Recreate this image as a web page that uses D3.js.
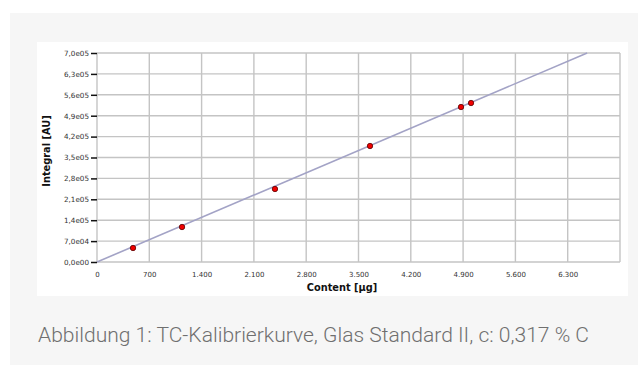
<!DOCTYPE html>
<html>
<head>
<meta charset="utf-8">
<script src="https://cdn.jsdelivr.net/npm/d3@7"></script>
<style>
  html, body { margin: 0; padding: 0; background: #ffffff; }
  svg { display: block; }
</style>
</head>
<body>
<svg id="chart" width="638" height="365"></svg>
<script>
// Calibration standards: sample content [µg] and measured peak integral [AU]
const contentUg = [482, 1138, 2382, 3654, 4872, 5006];
const integralAU = [46900, 117200, 244500, 388500, 519100, 532500];

// Calibration line through the origin (integral per µg)
const fitSlope = 106.7;

// Axis ticks
const xTicks = [0, 700, 1400, 2100, 2800, 3500, 4200, 4900, 5600, 6300];
const xTickLabels = ["0", "700", "1.400", "2.100", "2.800", "3.500", "4.200", "4.900", "5.600", "6.300"];
const yTicks = [0, 70000, 140000, 210000, 280000, 350000, 420000, 490000, 560000, 630000, 700000];
const yTickLabels = ["0,0e00", "7,0e04", "1,4e05", "2,1e05", "2,8e05", "3,5e05", "4,2e05", "4,9e05", "5,6e05", "6,3e05", "7,0e05"];

const xDomain = [0, 7000];
const yDomain = [0, 700000];

const caption = "Abbildung 1: TC-Kalibrierkurve, Glas Standard II, c: 0,317 % C";

const svg = d3.select("#chart");

// Page framing: light grey band with a white chart card
svg.append("rect").attr("x", 10).attr("y", 13).attr("width", 628).attr("height", 352).attr("fill", "#f6f6f6");
svg.append("rect").attr("x", 37).attr("y", 42).attr("width", 591).attr("height", 254).attr("fill", "#ffffff");

const plot = { left: 97, right: 620, top: 53, bottom: 262 };

const x = d3.scaleLinear().domain(xDomain).range([plot.left, plot.right]);
const y = d3.scaleLinear().domain(yDomain).range([plot.bottom, plot.top]);

const gridColor = "#c4c4c4";
const tickFont = "Verdana, 'DejaVu Sans', sans-serif";

// Vertical grid lines + x labels
const xAxis = d3.axisBottom(x)
  .tickValues(xTicks)
  .tickSize(0)
  .tickPadding(10)
  .tickFormat((d, i) => xTickLabels[i]);
const gx = svg.append("g").attr("transform", `translate(0,${plot.bottom})`).call(xAxis);
gx.select(".domain").remove();
gx.selectAll("text").attr("font-family", tickFont).attr("font-size", "7px").attr("fill", "#333");

svg.append("g").selectAll("line").data(xTicks.concat([xDomain[1]])).join("line")
  .attr("x1", d => x(d)).attr("x2", d => x(d))
  .attr("y1", plot.top).attr("y2", plot.bottom)
  .attr("stroke", gridColor).attr("stroke-width", 1.4);

// Horizontal grid lines
svg.append("g").selectAll("line").data(yTicks).join("line")
  .attr("x1", plot.left).attr("x2", plot.right)
  .attr("y1", d => y(d)).attr("y2", d => y(d))
  .attr("stroke", gridColor).attr("stroke-width", 1.4);

// Y axis with short black ticks
const yAxis = d3.axisLeft(y)
  .tickValues(yTicks)
  .tickSize(6)
  .tickPadding(2)
  .tickFormat((d, i) => yTickLabels[i]);
const gy = svg.append("g").attr("transform", `translate(${plot.left},0)`).call(yAxis);
gy.select(".domain").remove();
gy.selectAll(".tick line").attr("stroke", "#111").attr("stroke-width", 1.5);
gy.selectAll("text").attr("font-family", tickFont).attr("font-size", "7.2px").attr("fill", "#333");

// Calibration line, from the origin to the top of the value range
const lineEnd = yDomain[1] / fitSlope;
svg.append("line")
  .attr("x1", x(0)).attr("y1", y(0))
  .attr("x2", x(lineEnd)).attr("y2", y(fitSlope * lineEnd))
  .attr("stroke", "#a3a3c6").attr("stroke-width", 1.6);

// Measured standards
svg.append("g").selectAll("circle").data(contentUg).join("circle")
  .attr("cx", d => x(d))
  .attr("cy", (d, i) => y(integralAU[i]))
  .attr("r", 2.7)
  .attr("fill", "#f00000")
  .attr("stroke", "#5a0000")
  .attr("stroke-width", 0.8);

// Axis titles
svg.append("text")
  .attr("x", 342).attr("y", 291)
  .attr("text-anchor", "middle")
  .attr("font-family", tickFont).attr("font-weight", "bold").attr("font-size", "9.8px")
  .attr("fill", "#111")
  .text("Content [µg]");

svg.append("text")
  .attr("transform", "translate(50,151) rotate(-90)")
  .attr("text-anchor", "middle")
  .attr("font-family", tickFont).attr("font-weight", "bold").attr("font-size", "9.8px")
  .attr("fill", "#111")
  .text("Integral [AU]");

// Figure caption
svg.append("text")
  .attr("x", 38).attr("y", 342)
  .attr("font-family", "Roboto, 'Open Sans', sans-serif").attr("font-weight", 300)
  .attr("font-size", "20px")
  .attr("fill", "#6f6f6f")
  .attr("textLength", 551)
  .attr("lengthAdjust", "spacingAndGlyphs")
  .text(caption);
</script>
</body>
</html>
